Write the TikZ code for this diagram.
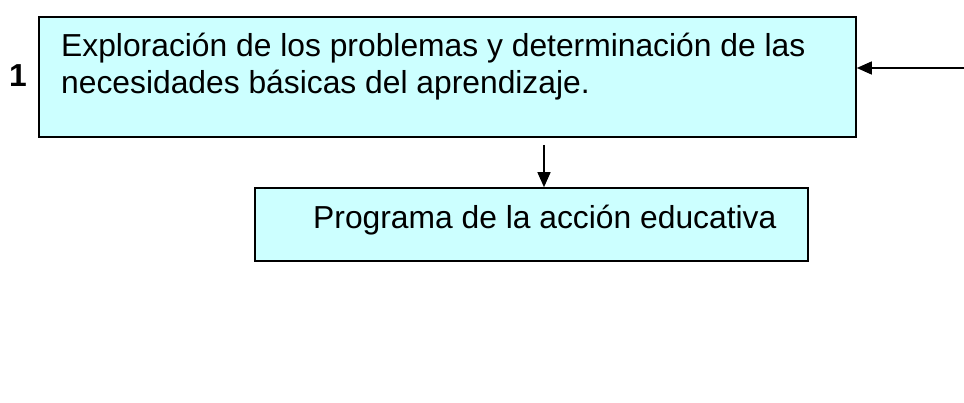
\documentclass[tikz,border=0pt]{standalone}
\usepackage{fontspec}
\setmainfont{Liberation Sans}
\usetikzlibrary{arrows.meta}
\definecolor{boxfill}{HTML}{CCFFFF}
\tikzset{
  box/.style={draw=black, line width=1.6pt, fill=boxfill, inner sep=0pt},
  txt/.style={font=\fontsize{31.8}{38}\selectfont, inner sep=0pt, anchor=base west},
  conn/.style={line width=1.4pt, -{Triangle[length=15pt,width=13pt]}}
}
\begin{document}
\begin{tikzpicture}[x=1pt,y=-1pt]
\useasboundingbox (0,0) rectangle (964,403);
\node[box, minimum width=817pt, minimum height=120pt] (b1) at (447.5,77) {};
\node[box, minimum width=553pt, minimum height=73pt] (b2) at (531.5,224.5) {};
\node[txt] (t1) at (61,57) {Exploración de los problemas y determinación de las};
\node[txt] (t2) at (61,94) {necesidades básicas del aprendizaje.};
\node[txt] (t3) at (313,229) {Programa de la acción educativa};
\node[txt, font=\fontsize{31.8}{38}\selectfont\bfseries] (n1) at (9,87) {1};
\coordinate (s1) at (544,145);
\coordinate (s2) at (964,68);
\draw[conn] (s1) -- (s1 |- b2.north);
\draw[conn] (s2) -- (s2 -| b1.east);
\end{tikzpicture}
\end{document}
